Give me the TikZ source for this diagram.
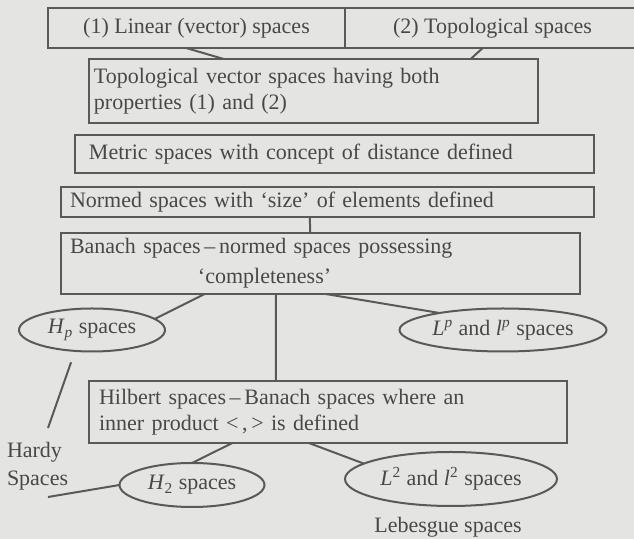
\documentclass[tikz,border=0pt]{standalone}
\usepackage{fontspec}
\setmainfont{Liberation Serif}
\usepackage{tikz}
\usetikzlibrary{positioning,calc,shapes.geometric}
\definecolor{Paper}{HTML}{E4E4E2}
\definecolor{Ink}{HTML}{595959}
\definecolor{Type}{HTML}{484848}

\begin{document}
\begin{tikzpicture}[x=0.5pt,y=-0.5pt,
  every node/.style={font=\fontsize{11}{13}\selectfont,text=Type,inner sep=0pt,outer sep=0pt},
  box/.style={draw=Ink,line width=1pt,rectangle,anchor=north west},
  oval/.style={draw=Ink,line width=1pt,ellipse,inner xsep=-12pt,inner ysep=-4pt},
  link/.style={draw=Ink,line width=1pt}
]
\fill[Paper] (0,0) rectangle (634,539);
\useasboundingbox (0,0) rectangle (634,539);
% the space hierarchy
\node[box,minimum width=148.5pt,minimum height=20pt] (linear) at (48,8) {(1) Linear (vector) spaces};
\node[box,minimum width=147.5pt,minimum height=20pt] (topol) at (345,8) {(2) Topological spaces};
\node[box,text width=219.5pt,inner xsep=2.5pt,minimum height=32pt,align=left] (tvs) at (89,59) {Topological vector spaces having both\\properties (1) and (2)};
\node[box,text width=245.5pt,inner xsep=7pt,minimum height=19pt,align=left] (metric) at (75,135) {Metric spaces with concept of distance defined};
\node[box,text width=257.5pt,inner xsep=4.5pt,minimum height=15pt,align=left] (normed) at (61,187) {Normed spaces with ‘size’ of elements defined};
\node[box,text width=250.5pt,inner xsep=4.5pt,minimum height=30.5pt,align=left] (banach) at (61,233) {Banach spaces\,–\,normed spaces possessing\\[2pt]\hspace*{64pt}‘completeness’};
\node[box,text width=229pt,inner xsep=5pt,minimum height=31pt,align=left] (hilbert) at (89,381) {Hilbert spaces\,–\,Banach spaces where an\\inner product <\,,\,> is defined};
% examples
\node[oval,minimum width=73pt,minimum height=21.5pt] (hp) at (92,330) {\textit{H}\textsubscript{\textit{p}} spaces};
\node[oval,minimum width=103.5pt,minimum height=21.5pt] (lp) at (503,330) {\textit{L}\textsuperscript{\textit{p}} and \textit{l}\textsuperscript{\textit{p}} spaces};
\node[oval,minimum width=72.5pt,minimum height=22pt] (h2) at (192,485) {\textit{H}\textsubscript{2} spaces};
\node[oval,minimum width=106pt,minimum height=27pt] (l2) at (451,479) {\textit{L}\textsuperscript{2} and \textit{l}\textsuperscript{2} spaces};
\node[align=left,anchor=west,font=\fontsize{11}{14}\selectfont] (hardy) at (7,466) {Hardy\\Spaces};
\node (lebesgue) at (448,527) {Lebesgue spaces};
\coordinate (hardytop) at (48,428);
\coordinate (hardyfoot) at (48,497);
% connectors
\draw[link] ($(linear.south west)!0.465!(linear.south east)$) -- ($(tvs.north west)!0.30!(tvs.north east)$);
\draw[link] ($(topol.south west)!0.467!(topol.south east)$) -- ($(tvs.north west)!0.85!(tvs.north east)$);
\draw[link] ($(normed.south west)!0.467!(normed.south east)$) -- ($(banach.north west)!0.48!(banach.north east)$);
\draw[link] ($(banach.south west)!0.277!(banach.south east)$) -- (hp.10);
\draw[link] ($(banach.south west)!0.51!(banach.south east)$) -- (lp.165);
\draw[link] ($(banach.south west)!0.414!(banach.south east)$) -- ($(hilbert.north west)!0.391!(hilbert.north east)$);
\draw[link] ($(hilbert.south west)!0.30!(hilbert.south east)$) -- (h2.north);
\draw[link] ($(hilbert.south west)!0.46!(hilbert.south east)$) -- (l2.170);
\draw[link,shorten <=6pt] (hp.231) -- (hardytop);
\draw[link] (hardyfoot) -- (h2.west);
\end{tikzpicture}
\end{document}
